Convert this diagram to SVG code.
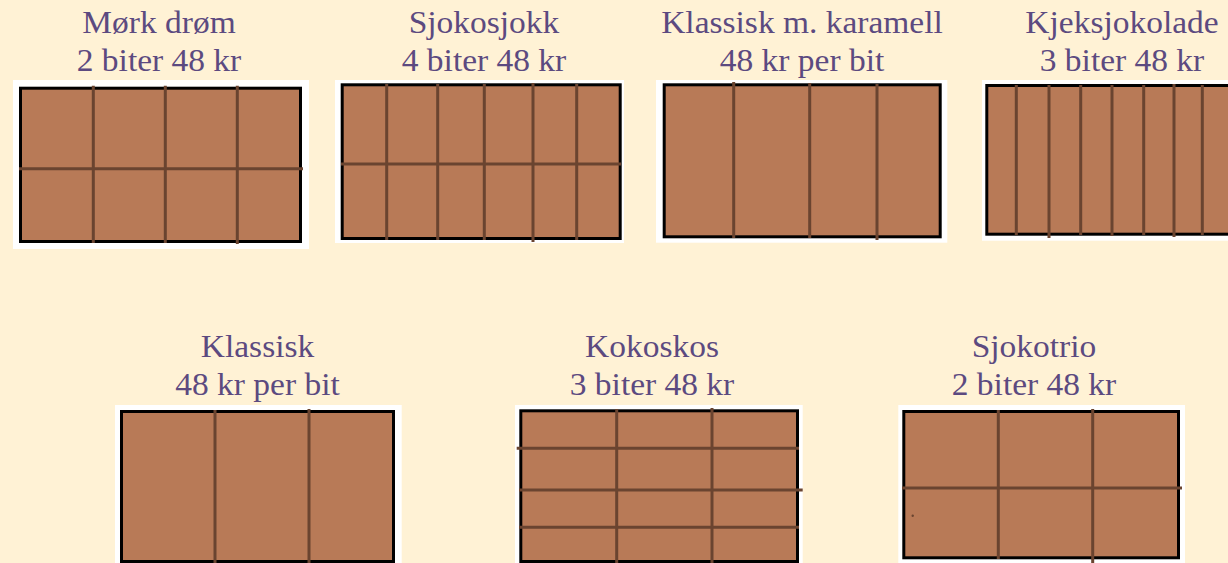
<svg xmlns="http://www.w3.org/2000/svg" width="1228" height="563" viewBox="0 0 1228 563">
  <style>
    .bg { fill: #FFF2D5; }
    .back { fill: #FFFFFF; }
    .bar { fill: #B87A57; stroke: #000000; stroke-width: 3; }
    .div { stroke: #6A4430; stroke-width: 3; fill: none; stroke-linecap: butt; }
    .lbl { font-family: 'Liberation Serif', serif; font-size: 31px; fill: #5C4A80; text-anchor: middle; }
  </style>
  <rect class="bg" x="0" y="0" width="1228" height="563"/>

  <g id="mork-drom">
    <text class="lbl" transform="translate(159,33.3) scale(1.08,1)">Mørk drøm</text>
    <text class="lbl" transform="translate(159,70.7) scale(1.08,1)">2 biter 48 kr</text>
    <rect class="back" x="13" y="80" width="296" height="169"/>
    <rect class="bar" x="20.5" y="88.2" width="280" height="153.3"/>
    <path class="div" d="M93.3 85.7V243 M165.3 85.7V243 M237.3 85.7V244 M19 168.7H303"/>
  </g>

  <g id="sjokosjokk">
    <text class="lbl" transform="translate(484,33.3) scale(1.08,1)">Sjokosjokk</text>
    <text class="lbl" transform="translate(484,70.7) scale(1.08,1)">4 biter 48 kr</text>
    <rect class="back" x="335" y="80" width="289" height="163"/>
    <rect class="bar" x="342.2" y="84.8" width="278" height="153.7"/>
    <path class="div" d="M386.7 84V240 M437.7 84V240 M484.3 84V240 M533 83V242 M576.7 84V240 M341 164H621"/>
  </g>

  <g id="klassisk-karamell">
    <text class="lbl" transform="translate(802,33.3) scale(1.08,1)">Klassisk m. karamell</text>
    <text class="lbl" transform="translate(802,70.7) scale(1.08,1)">48 kr per bit</text>
    <rect class="back" x="656" y="80" width="291.3" height="162.7"/>
    <rect class="bar" x="664.2" y="84.8" width="276" height="152"/>
    <path class="div" d="M733.7 82V238 M809.7 83V238 M877 84V240"/>
  </g>

  <g id="kjeksjokolade">
    <text class="lbl" transform="translate(1122,33.3) scale(1.08,1)">Kjeksjokolade</text>
    <text class="lbl" transform="translate(1122,70.7) scale(1.08,1)">3 biter 48 kr</text>
    <rect class="back" x="982" y="80" width="280" height="160.7"/>
    <rect class="bar" x="986.8" y="85.5" width="270" height="148.7"/>
    <path class="div" d="M1016.3 85V235 M1049 85V238 M1080.7 85V235 M1112 85V236 M1143.7 85V235 M1174 84V237 M1202.3 85V235"/>
  </g>

  <g id="klassisk">
    <text class="lbl" transform="translate(257.5,356.7) scale(1.08,1)">Klassisk</text>
    <text class="lbl" transform="translate(257.5,395) scale(1.08,1)">48 kr per bit</text>
    <rect class="back" x="115" y="405" width="286.7" height="160"/>
    <rect class="bar" x="121.5" y="411.5" width="272" height="150"/>
    <path class="div" d="M215 410V563 M309 409V563"/>
  </g>

  <g id="kokoskos">
    <text class="lbl" transform="translate(652,356.7) scale(1.08,1)">Kokoskos</text>
    <text class="lbl" transform="translate(652,395) scale(1.08,1)">3 biter 48 kr</text>
    <rect class="back" x="515" y="405" width="287.7" height="160"/>
    <rect class="bar" x="520.8" y="410.8" width="276.7" height="150.7"/>
    <path class="div" d="M616.7 409V563 M712 408V563 M516.7 448.3H799 M519 490H802.7 M519 527.3H799"/>
  </g>

  <g id="sjokotrio">
    <text class="lbl" transform="translate(1034,356.7) scale(1.08,1)">Sjokotrio</text>
    <text class="lbl" transform="translate(1034,395) scale(1.08,1)">2 biter 48 kr</text>
    <rect class="back" x="898.3" y="405" width="286.7" height="160"/>
    <rect class="bar" x="903.8" y="411.5" width="274.7" height="146.3"/>
    <path class="div" d="M998.3 410V559 M1092.7 409V563 M902 488H1182"/>
    <circle cx="912.7" cy="515.7" r="1.2" fill="#6A4430"/>
  </g>

  <g id="connectors"></g>
</svg>
